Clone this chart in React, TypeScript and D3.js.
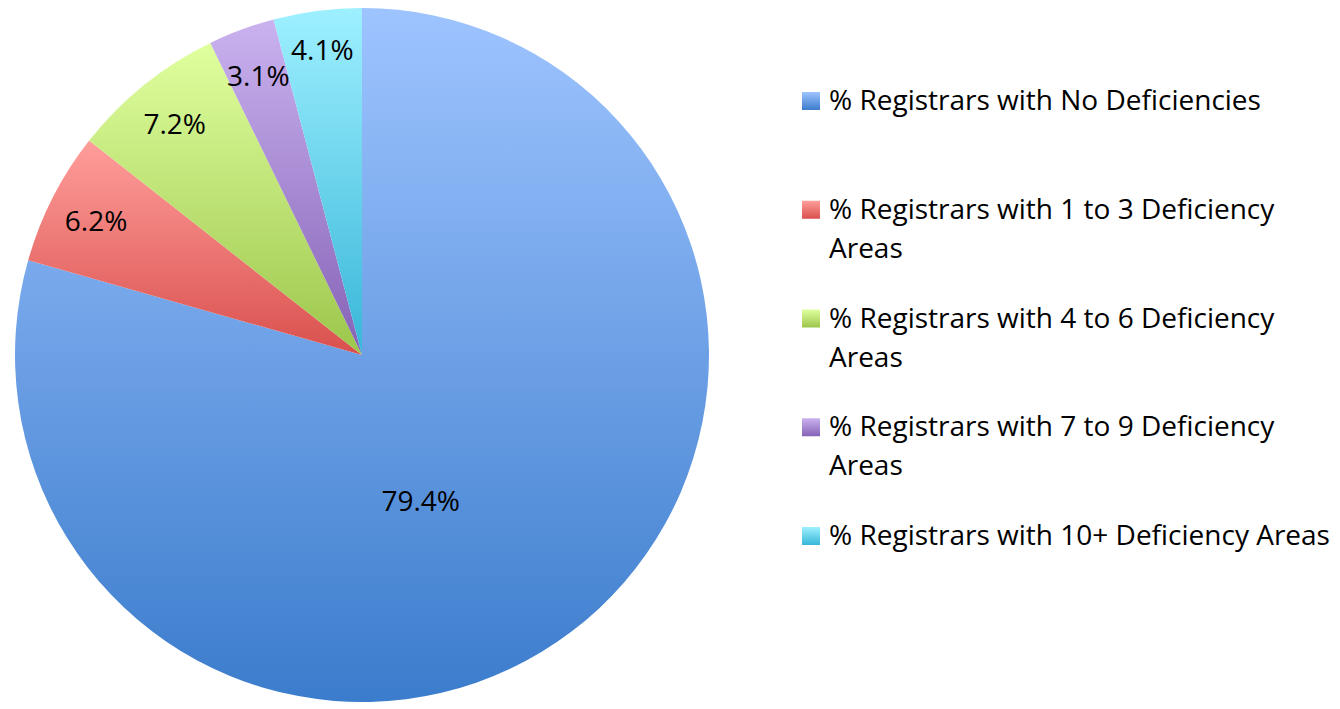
import React from "react";
import * as d3 from "d3";

const categories = [
  "% Registrars with No Deficiencies",
  "% Registrars with 1 to 3 Deficiency Areas",
  "% Registrars with 4 to 6 Deficiency Areas",
  "% Registrars with 7 to 9 Deficiency Areas",
  "% Registrars with 10+ Deficiency Areas",
];
const values = [79.4, 6.2, 7.2, 3.1, 4.1];
const labels = ["79.4%", "6.2%", "7.2%", "3.1%", "4.1%"];
const topColors = ["#9ec4ff", "#ff9e9b", "#e0ff9f", "#cab2ef", "#9ef0ff"];
const bottomColors = ["#3b7ccc", "#d9504d", "#9cc64b", "#8562b6", "#38b6d8"];

const W = 1340;
const H = 709;
const FONT = "'Open Sans', sans-serif";
const FS = 28;

function wrap(text: string, maxW: number): string[] {
  const canvas = document.createElement("canvas");
  const ctx = canvas.getContext("2d")!;
  ctx.font = `${FS}px 'Open Sans'`;
  const words = text.split(" ");
  const lines: string[] = [];
  let cur = "";
  for (const w of words) {
    const t = cur ? cur + " " + w : w;
    if (ctx.measureText(t).width > maxW && cur) {
      lines.push(cur);
      cur = w;
    } else cur = t;
  }
  if (cur) lines.push(cur);
  return lines;
}

export default function App() {
  const cx = 362;
  const cy = 355;
  const r = 347;
  const pie = d3.pie<number>().sort(null).value((d) => d)(values);
  const arc = d3.arc<d3.PieArcDatum<number>>().innerRadius(0).outerRadius(r);

  const labelPos = (d: d3.PieArcDatum<number>, i: number): [number, number] => {
    if (d.endAngle - d.startAngle > Math.PI) {
      const a = Math.PI - 0.385;
      const rr = r * 0.45;
      return [Math.sin(a) * rr, -Math.cos(a) * rr];
    }
    const a = (d.startAngle + d.endAngle) / 2;
    const rr = r * (i === 4 ? 0.89 : 0.86);
    return [Math.sin(a) * rr, -Math.cos(a) * rr];
  };

  const legendX = 829;
  const legendBase0 = 110;
  const legendStep = 108.75;

  return (
    <svg width={W} height={H} style={{ position: "absolute", left: 0, top: 0, background: "#fff" }}>
      <defs>
        {values.map((_, i) => (
          <linearGradient key={i} id={`g${i}`} x1="0" y1="0" x2="0" y2="1">
            <stop offset="0" stopColor={topColors[i]} />
            <stop offset="1" stopColor={bottomColors[i]} />
          </linearGradient>
        ))}
      </defs>
      <g transform={`translate(${cx},${cy})`}>
        {pie.map((d, i) => (
          <path key={i} d={arc(d) || ""} fill={`url(#g${i})`} />
        ))}
        {pie.map((d, i) => {
          const [x, y] = labelPos(d, i);
          return (
            <text
              key={i}
              x={x}
              y={y}
              textAnchor="middle"
              dominantBaseline="central"
              fontFamily={FONT}
              fontSize={FS}
              fill="#000"
            >
              {labels[i]}
            </text>
          );
        })}
      </g>
      <g>
        {categories.map((c, i) => {
          const base = legendBase0 + i * legendStep;
          const lines = wrap(c, 510);
          return (
            <g key={i}>
              <rect x={802} y={base - 18} width={18} height={18} fill={`url(#g${i})`} />
              <text fontFamily={FONT} fontSize={FS} fill="#000">
                {lines.map((l, j) => (
                  <tspan key={j} x={legendX} y={base + j * 39}>
                    {l}
                  </tspan>
                ))}
              </text>
            </g>
          );
        })}
      </g>
    </svg>
  );
}
